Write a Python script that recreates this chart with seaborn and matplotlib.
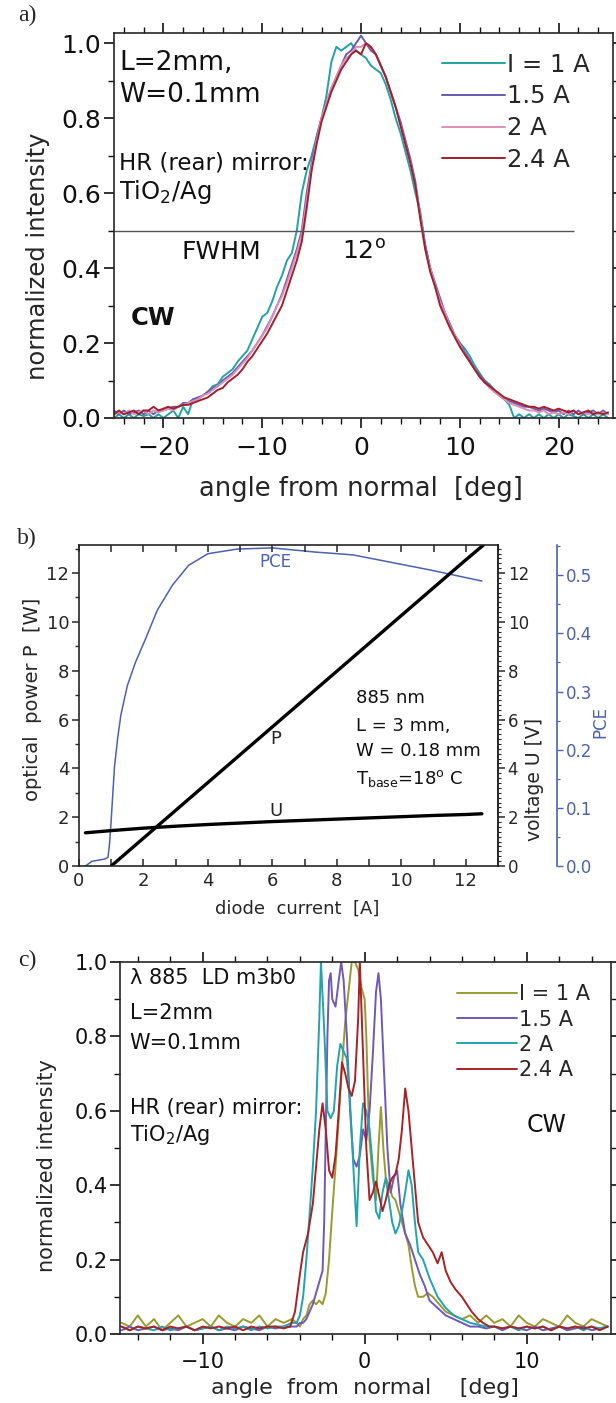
import matplotlib
matplotlib.use("Agg")
import matplotlib.pyplot as plt
import seaborn as sns
from matplotlib.ticker import MultipleLocator

# ---------------- panel a data ----------------
angle_a = [-25.0, -24.5, -24.0, -23.5, -23.0, -22.5, -22.0, -21.5, -21.0, -20.5,
           -20.0, -19.5, -19.0, -18.5, -18.0, -17.5, -17.0, -16.5, -16.0, -15.5,
           -15.0, -14.5, -14.0, -13.5, -13.0, -12.5, -12.0, -11.5, -11.0, -10.5,
           -10.0, -9.5, -9.0, -8.5, -8.0, -7.5, -7.0, -6.5, -6.0, -5.5,
           -5.0, -4.5, -4.0, -3.5, -3.0, -2.5, -2.0, -1.5, -1.0, -0.5,
           0.0, 0.5, 1.0, 1.5, 2.0, 2.5, 3.0, 3.5, 4.0, 4.5,
           5.0, 5.5, 6.0, 6.5, 7.0, 7.5, 8.0, 8.5, 9.0, 9.5,
           10.0, 10.5, 11.0, 11.5, 12.0, 12.5, 13.0, 13.5, 14.0, 14.5,
           15.0, 15.5, 16.0, 16.5, 17.0, 17.5, 18.0, 18.5, 19.0, 19.5,
           20.0, 20.5, 21.0, 21.5, 22.0, 22.5, 23.0, 23.5, 24.0, 24.5, 25.0]
a_1A = [0.0, 0.01, 0.0, 0.01, 0.0, 0.01, 0.005, 0.01, 0.0, 0.01,
        0.0, 0.01, 0.02, 0.0, 0.03, 0.01, 0.05, 0.05, 0.06, 0.07,
        0.085, 0.09, 0.11, 0.12, 0.13, 0.15, 0.165, 0.18, 0.21, 0.24,
        0.27, 0.28, 0.31, 0.35, 0.38, 0.42, 0.44, 0.5, 0.6, 0.66,
        0.7, 0.75, 0.8, 0.86, 0.95, 0.99, 0.98, 0.99, 1.0, 0.98,
        0.97, 0.96, 0.94, 0.93, 0.92, 0.89, 0.85, 0.8, 0.76, 0.71,
        0.66, 0.6, 0.55, 0.46, 0.4, 0.35, 0.31, 0.28, 0.25, 0.22,
        0.2, 0.185, 0.165, 0.14, 0.12, 0.1, 0.09, 0.075, 0.06, 0.05,
        0.035, 0.0, 0.01, 0.0, 0.01, 0.0, 0.01, 0.0, 0.01, 0.0,
        0.01, 0.0, 0.01, 0.005, 0.0, 0.01, 0.0, 0.01, 0.0, 0.01, 0.0]
a_15A = [0.02, 0.01, 0.02, 0.01, 0.015, 0.02, 0.01, 0.02, 0.01, 0.02,
         0.02, 0.025, 0.03, 0.03, 0.04, 0.04, 0.05, 0.055, 0.06, 0.07,
         0.08, 0.085, 0.1, 0.11, 0.12, 0.135, 0.15, 0.165, 0.18, 0.2,
         0.22, 0.245, 0.27, 0.3, 0.33, 0.37, 0.41, 0.45, 0.5, 0.6,
         0.68, 0.75, 0.8, 0.84, 0.88, 0.91, 0.94, 0.97, 0.98, 1.0,
         1.02, 1.0, 0.98, 0.97, 0.94, 0.91, 0.87, 0.83, 0.79, 0.74,
         0.69, 0.63, 0.54, 0.46, 0.4, 0.36, 0.32, 0.28, 0.25, 0.22,
         0.2, 0.175, 0.155, 0.13, 0.115, 0.1, 0.085, 0.07, 0.06, 0.05,
         0.045, 0.04, 0.035, 0.03, 0.03, 0.025, 0.02, 0.025, 0.02, 0.015,
         0.02, 0.01, 0.02, 0.01, 0.02, 0.01, 0.015, 0.02, 0.01, 0.02, 0.01]
a_2A = [0.01, 0.015, 0.01, 0.02, 0.01, 0.015, 0.02, 0.01, 0.02, 0.015,
        0.02, 0.025, 0.02, 0.03, 0.035, 0.04, 0.045, 0.05, 0.06, 0.065,
        0.075, 0.085, 0.095, 0.105, 0.115, 0.13, 0.145, 0.16, 0.18, 0.2,
        0.22, 0.24, 0.27, 0.3, 0.325, 0.36, 0.4, 0.44, 0.49, 0.58,
        0.67, 0.74, 0.8, 0.84, 0.88, 0.91, 0.94, 0.96, 0.97, 0.99,
        0.99, 1.0, 0.99, 0.97, 0.94, 0.91, 0.87, 0.83, 0.78, 0.73,
        0.68, 0.62, 0.54, 0.45, 0.4, 0.355, 0.31, 0.28, 0.245, 0.22,
        0.195, 0.17, 0.15, 0.13, 0.11, 0.095, 0.08, 0.07, 0.06, 0.05,
        0.04, 0.035, 0.03, 0.025, 0.02, 0.02, 0.015, 0.02, 0.01, 0.015,
        0.01, 0.015, 0.01, 0.02, 0.01, 0.015, 0.01, 0.015, 0.01, 0.015, 0.01]
a_24A = [0.01, 0.02, 0.01, 0.015, 0.02, 0.01, 0.02, 0.02, 0.03, 0.02,
         0.025, 0.03, 0.025, 0.03, 0.035, 0.035, 0.04, 0.045, 0.05, 0.055,
         0.065, 0.075, 0.08, 0.095, 0.105, 0.115, 0.13, 0.15, 0.165, 0.185,
         0.205, 0.225, 0.25, 0.275, 0.3, 0.34, 0.38, 0.42, 0.47, 0.56,
         0.66, 0.73, 0.79, 0.83, 0.87, 0.9, 0.93, 0.95, 0.97, 0.98,
         0.97, 1.0, 0.99, 0.97, 0.94, 0.91, 0.87, 0.83, 0.78, 0.73,
         0.68, 0.62, 0.53, 0.45, 0.39, 0.35, 0.3, 0.27, 0.24, 0.215,
         0.19, 0.17, 0.15, 0.13, 0.11, 0.095, 0.085, 0.075, 0.065, 0.055,
         0.05, 0.045, 0.04, 0.035, 0.03, 0.03, 0.025, 0.03, 0.025, 0.02,
         0.025, 0.02, 0.015, 0.02, 0.01, 0.015, 0.02, 0.01, 0.015, 0.01, 0.015]
labels_a = ["I = 1 A", "1.5 A", "2 A", "2.4 A"]
colors_a = ["#22a2a2", "#6b5ab4", "#dc8fb8", "#a1202a"]
fwhm_level = 0.5
fwhm_line_end = 21.6

# ---------------- panel b data ----------------
current_P = [1.0, 2.0, 3.0, 4.0, 5.0, 6.0, 7.0, 8.0, 9.0, 10.0, 11.0, 12.0, 12.55]
power_P = [0.0, 1.14, 2.28, 3.42, 4.56, 5.7, 6.84, 7.98, 9.12, 10.26, 11.4, 12.54, 13.15]
current_U = [0.2, 1.0, 2.0, 3.0, 4.0, 5.0, 6.0, 7.0, 8.0, 9.0, 10.0, 11.0, 12.0, 12.5]
voltage_U = [1.36, 1.45, 1.55, 1.63, 1.7, 1.76, 1.82, 1.87, 1.92, 1.97, 2.02, 2.07, 2.11, 2.14]
current_pce = [0.2, 0.4, 0.6, 0.8, 0.9, 0.95, 1.0, 1.1, 1.2, 1.3, 1.5, 1.75, 2.06, 2.43,
               2.9, 3.4, 4.0, 4.9, 6.0, 7.3, 8.5, 9.7, 10.9, 12.5]
pce = [0.0, 0.008, 0.01, 0.012, 0.015, 0.04, 0.08, 0.17, 0.22, 0.26, 0.31, 0.35, 0.39, 0.44,
       0.483, 0.517, 0.537, 0.545, 0.547, 0.54, 0.535, 0.522, 0.509, 0.49]

# ---------------- panel c data ----------------
tail_left = [-15.0, -14.5, -14.0, -13.5, -13.0, -12.5, -12.0, -11.5, -11.0, -10.5,
             -10.0, -9.5, -9.0, -8.5, -8.0, -7.5, -7.0, -6.5, -6.0, -5.5, -5.0]
tail_right = [8.5, 9.0, 9.5, 10.0, 10.5, 11.0, 11.5, 12.0, 12.5, 13.0, 13.5, 14.0, 14.5, 15.0]

c1_mid_angle = [-4.5, -4.2, -4.0, -3.8, -3.6, -3.4, -3.2, -3.0, -2.8, -2.6,
                -2.4, -2.2, -2.0, -1.8, -1.6, -1.4, -1.2, -1.0, -0.8, -0.6,
                -0.4, -0.2, 0.0, 0.1, 0.2, 0.3, 0.5, 0.7, 0.85, 1.0,
                1.15, 1.3, 1.5, 1.7, 1.9, 2.1, 2.3, 2.5, 2.7, 2.9,
                3.1, 3.3, 3.6, 3.9, 4.2, 4.6, 5.0, 5.5, 6.0, 6.5,
                7.0, 7.5, 8.0]
c1_left = [0.03, 0.02, 0.05, 0.02, 0.04, 0.01, 0.03, 0.05, 0.02, 0.03, 0.04,
           0.02, 0.05, 0.03, 0.02, 0.04, 0.03, 0.05, 0.02, 0.04, 0.03]
c1_mid = [0.04, 0.03, 0.02, 0.04, 0.05, 0.08, 0.09, 0.08, 0.09, 0.08,
          0.11, 0.2, 0.33, 0.45, 0.58, 0.72, 0.84, 0.92, 1.0, 1.0,
          0.98, 0.93, 0.9, 0.8, 0.65, 0.52, 0.42, 0.36, 0.5, 0.61,
          0.5, 0.42, 0.4, 0.37, 0.36, 0.33, 0.3, 0.27, 0.24, 0.18,
          0.13, 0.1, 0.1, 0.11, 0.1, 0.08, 0.06, 0.05, 0.04, 0.05,
          0.03, 0.05, 0.03]
c1_right = [0.04, 0.02, 0.05, 0.03, 0.02, 0.04, 0.03, 0.02, 0.05, 0.03, 0.02, 0.04, 0.03, 0.02]

c15_mid_angle = [-4.5, -4.2, -4.0, -3.8, -3.6, -3.4, -3.2, -3.0, -2.8, -2.6,
                 -2.5, -2.4, -2.3, -2.2, -2.1, -2.0, -1.8, -1.6, -1.45, -1.3,
                 -1.1, -0.9, -0.7, -0.5, -0.3, -0.1, 0.1, 0.3, 0.5, 0.7,
                 0.85, 1.0, 1.2, 1.4, 1.6, 1.8, 2.0, 2.2, 2.5, 2.8,
                 3.1, 3.4, 3.7, 4.0, 4.5, 5.0, 5.5, 6.0, 6.5, 7.0,
                 7.5, 8.0]
c15_left = [0.01, 0.02, 0.01, 0.015, 0.02, 0.01, 0.015, 0.01, 0.02, 0.01, 0.015,
            0.02, 0.01, 0.015, 0.01, 0.02, 0.015, 0.01, 0.02, 0.015, 0.02]
c15_mid = [0.02, 0.02, 0.03, 0.03, 0.04, 0.06, 0.08, 0.11, 0.14, 0.17,
           0.3, 0.55, 0.8, 0.95, 0.97, 0.9, 0.88, 0.95, 1.0, 0.95,
           0.8, 0.6, 0.47, 0.45, 0.48, 0.55, 0.52, 0.6, 0.75, 0.92,
           0.97, 0.9, 0.7, 0.5, 0.38, 0.42, 0.44, 0.35, 0.27, 0.24,
           0.2, 0.16, 0.13, 0.09, 0.07, 0.05, 0.04, 0.03, 0.02, 0.02,
           0.015, 0.02]
c15_right = [0.01, 0.02, 0.015, 0.01, 0.02, 0.01, 0.015, 0.02, 0.01, 0.015, 0.02, 0.01, 0.015, 0.02]

c2_mid_angle = [-4.5, -4.2, -4.0, -3.8, -3.6, -3.4, -3.2, -3.0, -2.8, -2.7,
                -2.5, -2.3, -2.1, -1.9, -1.7, -1.5, -1.3, -1.1, -0.9, -0.7,
                -0.5, -0.3, -0.1, 0.1, 0.3, 0.5, 0.7, 0.9, 1.1, 1.3,
                1.5, 1.7, 1.9, 2.1, 2.3, 2.5, 2.7, 2.9, 3.1, 3.3,
                3.6, 4.0, 4.5, 5.0, 5.5, 6.0, 6.5, 7.0, 7.5, 8.0]
c2_left = [0.02, 0.01, 0.02, 0.015, 0.01, 0.02, 0.01, 0.015, 0.02, 0.01, 0.015,
           0.02, 0.01, 0.02, 0.015, 0.02, 0.01, 0.02, 0.015, 0.02, 0.02]
c2_mid = [0.03, 0.03, 0.05, 0.1, 0.2, 0.32, 0.45, 0.6, 0.85, 1.0,
          0.82, 0.6, 0.58, 0.6, 0.72, 0.78, 0.76, 0.74, 0.62, 0.45,
          0.29, 0.5, 0.62, 0.6, 0.55, 0.45, 0.33, 0.31, 0.38, 0.42,
          0.36, 0.3, 0.27, 0.29, 0.33, 0.38, 0.44, 0.4, 0.3, 0.22,
          0.2, 0.15, 0.1, 0.07, 0.05, 0.04, 0.03, 0.025, 0.02, 0.02]
c2_right = [0.015, 0.02, 0.01, 0.02, 0.015, 0.02, 0.01, 0.02, 0.015, 0.02, 0.01, 0.02, 0.015, 0.02]

c24_mid_angle = [-4.6, -4.3, -4.0, -3.8, -3.5, -3.2, -3.0, -2.8, -2.6, -2.4, -2.2,
                 -2.0, -1.8, -1.6, -1.4, -1.2, -1.0, -0.8, -0.6, -0.4, -0.3,
                 -0.1, 0.1, 0.3, 0.5, 0.7, 0.9, 1.1, 1.3, 1.5, 1.7,
                 1.9, 2.1, 2.3, 2.5, 2.7, 2.9, 3.1, 3.3, 3.6, 3.9,
                 4.2, 4.5, 4.75, 5.0, 5.3, 5.6, 6.0, 6.3, 6.6, 7.0,
                 7.3, 7.7, 8.0]
c24_left = [0.02, 0.01, 0.02, 0.015, 0.02, 0.01, 0.02, 0.015, 0.02, 0.01, 0.02,
            0.015, 0.02, 0.015, 0.02, 0.01, 0.02, 0.015, 0.02, 0.02, 0.015]
c24_mid = [0.02, 0.06, 0.16, 0.22, 0.27, 0.35, 0.45, 0.55, 0.62, 0.55, 0.44,
           0.42, 0.48, 0.6, 0.73, 0.7, 0.66, 0.64, 0.68, 0.85, 1.0,
           0.75, 0.5, 0.36, 0.38, 0.41, 0.37, 0.33, 0.36, 0.4, 0.42,
           0.43, 0.47, 0.55, 0.66, 0.6, 0.5, 0.4, 0.3, 0.26, 0.24,
           0.22, 0.19, 0.22, 0.17, 0.14, 0.12, 0.1, 0.08, 0.06, 0.04,
           0.03, 0.02, 0.02]
c24_right = [0.015, 0.02, 0.015, 0.02, 0.015, 0.02, 0.01, 0.02, 0.015, 0.02, 0.015, 0.02, 0.01, 0.02]

labels_c = ["I = 1 A", "1.5 A", "2 A", "2.4 A"]
colors_c = ["#999a30", "#6e58bc", "#22a3ac", "#a82226"]

# ---------------- style ----------------
sns.set_style("ticks")
plt.rcParams["font.family"] = ["DejaVu Sans"]
plt.rcParams["mathtext.fontset"] = "dejavusans"
plt.rcParams["axes.linewidth"] = 1.2

W, H = 616, 1403
fig = plt.figure(figsize=(W / 100, H / 100), dpi=100)


def rect(l, r, t, b):
    return [l / W, 1 - b / H, (r - l) / W, (b - t) / H]


def ticks_all_out(ax, size):
    ax.tick_params(which="both", direction="out", top=True, right=True,
                   labeltop=False, labelright=False, labelsize=size, colors="#111111")
    ax.tick_params(which="major", length=7, width=1.2, pad=2)
    ax.tick_params(which="minor", length=4, width=1.0)


# ================= panel a =================
ax_a = fig.add_axes(rect(114, 613, 33, 418))
for vals, lab, col in zip([a_1A, a_15A, a_2A, a_24A], labels_a, colors_a):
    sns.lineplot(x=angle_a, y=vals, ax=ax_a, color=col, lw=1.4, label=lab,
                 legend=False, sort=False, estimator=None)
ax_a.hlines(fwhm_level, -25, fwhm_line_end, color="#555555", lw=1.0)
ax_a.set_xlim(-25, 25.5)
ax_a.set_ylim(0, 1.027)
ax_a.xaxis.set_major_locator(MultipleLocator(10))
ax_a.xaxis.set_minor_locator(MultipleLocator(2))
ax_a.yaxis.set_major_locator(MultipleLocator(0.2))
ax_a.yaxis.set_minor_locator(MultipleLocator(0.1))
ax_a.yaxis.set_major_formatter(matplotlib.ticker.FormatStrFormatter("%.1f"))
ticks_all_out(ax_a, 18)
ax_a.tick_params(axis="x", pad=6)
ax_a.set_xlabel("angle from normal  [deg]", fontsize=18.5)
ax_a.set_ylabel("normalized intensity", fontsize=17.5)
ax_a.xaxis.set_label_coords(0.495, -0.15)
ax_a.yaxis.set_label_coords(-0.128, 0.42)
ax_a.legend(loc="upper left", bbox_to_anchor=(0.657, 0.949), frameon=False,
            fontsize=17.5, handlelength=2.6, handletextpad=0.1, labelspacing=0.32,
            borderpad=0, borderaxespad=0)
ta = dict(ha="left", va="center", color="#111111")
ax_a.text(-24.5, 0.947, "L=2mm,", fontsize=19, **ta)
ax_a.text(-24.5, 0.861, "W=0.1mm", fontsize=19, **ta)
ax_a.text(-24.5, 0.68, "HR (rear) mirror:", fontsize=16.5, **ta)
ax_a.text(-24.5, 0.603, "TiO$_2$/Ag", fontsize=17.5, **ta)
ax_a.text(-18.2, 0.443, "FWHM", fontsize=18, **ta)
ax_a.text(-1.9, 0.443, "12$^{\\mathrm{o}}$", fontsize=18, **ta)
ax_a.text(-23.3, 0.267, "CW", fontsize=17.5, fontweight="bold", **ta)

# ================= panel b =================
ax_b = fig.add_axes(rect(79, 498, 545, 866))
ax_pce = ax_b.twinx()
ax_v = ax_b.twinx()
ax_pce.set_zorder(0)
ax_b.set_zorder(1)
ax_v.set_zorder(2)
ax_b.patch.set_visible(False)

pce_col = "#4a62b0"
sns.lineplot(x=current_pce, y=pce, ax=ax_pce, color=pce_col, lw=1.1,
             legend=False, sort=False, estimator=None)
sns.lineplot(x=current_P, y=power_P, ax=ax_b, color="black", lw=2.4,
             legend=False, sort=False, estimator=None)
sns.lineplot(x=current_U, y=voltage_U, ax=ax_v, color="black", lw=2.4,
             legend=False, sort=False, estimator=None)

ax_b.set_xlim(0, 13)
ax_b.set_ylim(0, 13.15)
ax_v.set_ylim(0, 13.15)
ax_pce.set_ylim(0, 0.552)
ax_b.xaxis.set_major_locator(MultipleLocator(2))
ax_b.xaxis.set_minor_locator(MultipleLocator(1))
ax_b.yaxis.set_major_locator(MultipleLocator(2))
ax_b.yaxis.set_minor_locator(MultipleLocator(1))
ax_b.tick_params(axis="x", which="both", direction="in", top=True, bottom=True,
                 labelsize=13, length=5, width=1.1, pad=4)
ax_b.tick_params(axis="y", which="major", direction="out", left=True, right=False,
                 labelsize=13, length=5, width=1.1, pad=2)
ax_b.tick_params(axis="y", which="minor", direction="out", left=True, right=False,
                 length=3, width=1.0)
ax_b.set_xlabel("diode  current  [A]", fontsize=13)
ax_b.xaxis.set_label_coords(0.52, -0.105)
ax_b.set_ylabel("optical  power P  [W]", fontsize=14)
ax_b.yaxis.set_label_coords(-0.088, 0.52)

for s in ["left", "top", "bottom"]:
    ax_v.spines[s].set_visible(False)
ax_v.yaxis.set_major_locator(MultipleLocator(2))
ax_v.yaxis.set_minor_locator(MultipleLocator(0.2))
ax_v.tick_params(axis="y", which="major", direction="out", length=5, width=1.1,
                 labelsize=12, pad=2)
ax_v.tick_params(axis="y", which="minor", direction="out", length=2.5, width=0.8)
ax_v.set_ylabel("voltage U [V]", fontsize=13.5)
ax_v.yaxis.set_label_coords(1.064, 0.27)

for s in ["left", "top", "bottom"]:
    ax_pce.spines[s].set_visible(False)
ax_pce.spines["right"].set_position(("axes", 1.141))
ax_pce.spines["right"].set_color(pce_col)
ax_pce.yaxis.set_major_locator(MultipleLocator(0.1))
ax_pce.yaxis.set_minor_locator(MultipleLocator(0.05))
ax_pce.yaxis.set_major_formatter(matplotlib.ticker.FormatStrFormatter("%.1f"))
ax_pce.tick_params(axis="y", which="major", direction="out", length=4, width=1.0,
                   labelsize=12, colors=pce_col, pad=2)
ax_pce.tick_params(axis="y", which="minor", direction="out", length=2.5,
                   width=0.8, colors=pce_col)
ax_pce.set_ylabel("PCE", fontsize=12, color=pce_col)
ax_pce.yaxis.set_label_coords(1.224, 0.45)

tb = dict(ha="left", va="center", fontsize=13, color="#111111")
ax_b.text(8.6, 6.89, "885 nm", **tb)
ax_b.text(8.6, 5.72, "L = 3 mm,", **tb)
ax_b.text(8.6, 4.7, "W = 0.18 mm", **tb)
ax_b.text(8.6, 3.6, "T$_{\\mathrm{base}}$=18$^{\\mathrm{o}}$ C", **tb)
ax_b.text(6.1, 5.2, "P", ha="center", va="center", fontsize=13)
ax_b.text(6.1, 2.25, "U", ha="center", va="center", fontsize=13)
ax_pce.text(6.1, 0.522, "PCE", ha="center", va="center", fontsize=12, color=pce_col)

# ================= panel c =================
ax_c = fig.add_axes(rect(120, 611, 962, 1334))
series_c = [
    (tail_left + c1_mid_angle + tail_right, c1_left + c1_mid + c1_right),
    (tail_left + c15_mid_angle + tail_right, c15_left + c15_mid + c15_right),
    (tail_left + c2_mid_angle + tail_right, c2_left + c2_mid + c2_right),
    (tail_left + c24_mid_angle + tail_right, c24_left + c24_mid + c24_right),
]
for (xs, ys), lab, col in zip(series_c, labels_c, colors_c):
    sns.lineplot(x=xs, y=ys, ax=ax_c, color=col, lw=1.4, label=lab,
                 legend=False, sort=False, estimator=None)
ax_c.set_xlim(-15.1, 15.2)
ax_c.set_ylim(0, 1.0)
ax_c.xaxis.set_major_locator(MultipleLocator(10))
ax_c.xaxis.set_minor_locator(MultipleLocator(2))
ax_c.yaxis.set_major_locator(MultipleLocator(0.2))
ax_c.yaxis.set_minor_locator(MultipleLocator(0.1))
ax_c.yaxis.set_major_formatter(matplotlib.ticker.FormatStrFormatter("%.1f"))
ticks_all_out(ax_c, 15)
ax_c.tick_params(axis="x", pad=6)
ax_c.set_xlabel("angle  from  normal    [deg]", fontsize=16)
ax_c.set_ylabel("normalized intensity", fontsize=15)
ax_c.xaxis.set_label_coords(0.499, -0.118)
ax_c.yaxis.set_label_coords(-0.128, 0.454)
ax_c.legend(loc="upper left", bbox_to_anchor=(0.686, 0.94), frameon=False,
            fontsize=15, handlelength=2.9, handletextpad=0.1, labelspacing=0.25,
            borderpad=0, borderaxespad=0)
tc = dict(ha="left", va="center", fontsize=15, color="#111111")
ax_c.text(-14.5, 0.957, "\u03bb 885  LD m3b0", **tc)
ax_c.text(-14.5, 0.863, "L=2mm", **tc)
ax_c.text(-14.5, 0.782, "W=0.1mm", **tc)
ax_c.text(-14.5, 0.607, "HR (rear) mirror:", **tc)
ax_c.text(-14.5, 0.535, "TiO$_2$/Ag", **tc)
ax_c.text(11.2, 0.562, "CW", ha="center", va="center", fontsize=17, color="#111111")

# panel letters
for lab, yy in [("a)", 15), ("b)", 538), ("c)", 960)]:
    fig.text(27 / W, 1 - yy / H, lab, family="Liberation Serif", fontsize=17,
             ha="center", va="center")

fig.savefig("out.png", dpi=100)
